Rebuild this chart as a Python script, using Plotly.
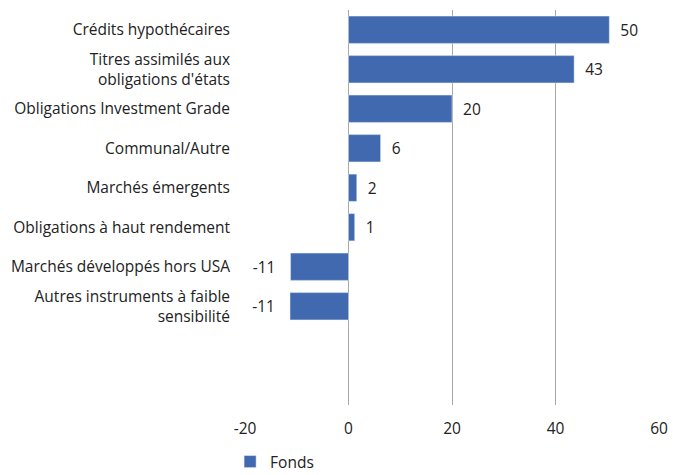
import plotly.graph_objects as go

categories = [
    "Crédits hypothécaires",
    "Titres assimilés aux<br>obligations d'états",
    "Obligations Investment Grade",
    "Communal/Autre",
    "Marchés émergents",
    "Obligations à haut rendement",
    "Marchés développés hors USA",
    "Autres instruments à faible<br>sensibilité",
]
values = [50.4, 43.6, 20.0, 6.2, 1.6, 1.2, -11.2, -11.3]
labels = ["50", "43", "20", "6", "2", "1", "-11", "-11"]
x_ticks = [-20, 0, 20, 40, 60]
x_tick_text = ["-20", "0", "20", "40", "60"]

padded = [("  " + t) if v >= 0 else (t + "   ") for t, v in zip(labels, values)]

FONT = "Open Sans"
fig = go.Figure()
fig.add_trace(go.Bar(
    y=categories, x=values, orientation="h", name="Fonds",
    marker=dict(color="#4169b0"),
    text=padded, textposition="outside", cliponaxis=False,
    textfont=dict(family=FONT, size=15.5, color="#222222"),
))
fig.update_layout(
    width=673, height=475,
    margin=dict(l=245, r=14, t=10, b=70, autoexpand=False),
    plot_bgcolor="white", paper_bgcolor="white",
    font=dict(family=FONT, size=15, color="#222222"),
    bargap=0.31,
    showlegend=True,
    legend=dict(orientation="h", x=-0.036, xanchor="left",
                yref="container", y=1 - 462 / 475, yanchor="middle",
                font=dict(family=FONT, size=15.5, color="#222222")),
    xaxis=dict(range=[-20, 60], tickvals=x_ticks, ticktext=x_tick_text, showgrid=True,
               gridcolor="#a8a8a8", gridwidth=1.3, zeroline=True, zerolinecolor="#a8a8a8",
               zerolinewidth=1.3, showline=False, tickfont=dict(size=15.5), ticks="",
               ticklabelstandoff=12, automargin=False),
    yaxis=dict(categoryorder="array", categoryarray=categories, range=[9.5, -0.5],
               showgrid=False, showline=False, ticks="", ticklabelstandoff=14,
               tickfont=dict(size=15.5), automargin=False),
)
fig.write_html("out.html", config={"displayModeBar": False},
               post_script="document.body.style.margin='0';")
